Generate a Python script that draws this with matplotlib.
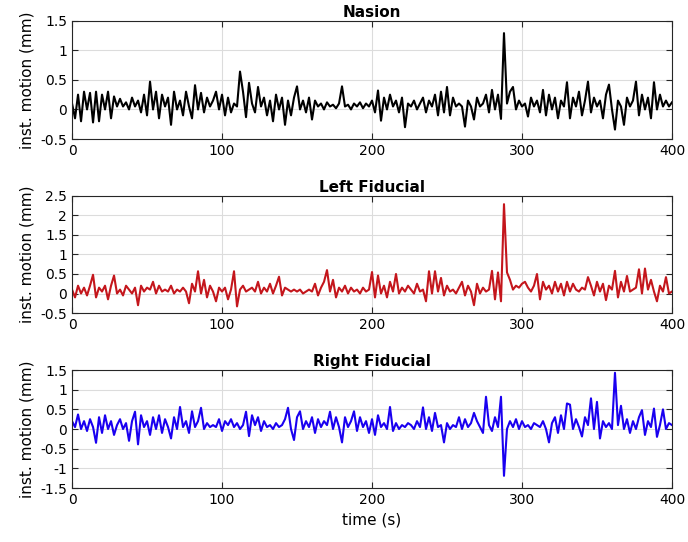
import numpy as np
import matplotlib
matplotlib.use('Agg')
import matplotlib.pyplot as plt
from matplotlib.ticker import FormatStrFormatter


# ── data (instantaneous motion, one value every 2 s) ─────────────
nasion = [
    0.1, -0.15, 0.25, -0.2, 0.3, 0.0, 0.28, -0.22, 0.3, -0.2, 0.25, 0.0, 0.3, -0.15, 0.22, 0.05, 0.18, 0.05, 0.12, 0.0, 0.2, 0.05, 0.15, -0.05, 0.25,
    -0.1, 0.47, 0.0, 0.3, -0.15, 0.25, 0.05, 0.2, -0.26, 0.3, 0.0, 0.15, -0.1, 0.3, 0.05, -0.15, 0.41, 0.0, 0.28, -0.05, 0.2, 0.05, 0.15, 0.3, 0.0,
    0.25, -0.1, 0.2, -0.05, 0.1, 0.05, 0.64, 0.3, -0.13, 0.45, 0.1, -0.05, 0.38, 0.05, 0.2, -0.1, 0.15, -0.2, 0.25, 0.0, 0.2, -0.26, 0.15, -0.1, 0.2,
    0.39, 0.0, 0.15, -0.05, 0.2, -0.17, 0.15, 0.05, 0.1, 0.0, 0.12, 0.05, 0.08, 0.02, 0.1, 0.39, 0.05, 0.08, 0.0, 0.1, 0.05, 0.12, 0.02, 0.1, 0.05,
    0.15, -0.05, 0.32, -0.19, 0.2, 0.0, 0.25, 0.05, 0.15, -0.05, 0.2, -0.3, 0.1, 0.05, 0.15, 0.0, 0.1, 0.2, -0.05, 0.15, 0.05, 0.25, -0.1, 0.3, -0.05,
    0.38, -0.1, 0.2, 0.05, 0.1, 0.05, -0.29, 0.15, 0.05, -0.17, 0.2, 0.05, 0.1, 0.25, -0.05, 0.33, 0.0, 0.25, -0.16, 1.29, 0.1, 0.3, 0.38, 0.0, 0.15,
    0.05, 0.1, -0.12, 0.2, 0.05, 0.15, -0.05, 0.33, -0.1, 0.25, 0.0, 0.2, -0.15, 0.15, 0.05, 0.46, -0.15, 0.2, 0.05, 0.3, -0.1, 0.15, 0.47, -0.05, 0.2,
    0.05, 0.15, -0.15, 0.25, 0.42, 0.0, -0.34, 0.15, 0.05, -0.26, 0.2, 0.05, 0.15, 0.47, -0.1, 0.25, 0.0, 0.2, -0.15, 0.46, 0.0, 0.25, 0.05, 0.15, 0.05,
    0.12,
]

left_fid = [
    0.1, -0.1, 0.2, 0.0, 0.15, -0.05, 0.2, 0.48, -0.1, 0.15, 0.05, 0.2, -0.15, 0.2, 0.46, 0.0, 0.1, -0.05, 0.2, 0.1, 0.0, 0.15, -0.3, 0.2, 0.05,
    0.15, 0.1, 0.3, 0.0, 0.2, 0.05, 0.1, 0.05, 0.2, 0.0, 0.1, 0.05, 0.15, 0.05, -0.25, 0.25, 0.05, 0.57, 0.0, 0.35, -0.1, 0.2, 0.05, -0.2, 0.15,
    0.05, 0.15, -0.15, 0.1, 0.57, -0.33, 0.1, 0.2, 0.05, 0.1, 0.15, 0.05, 0.3, 0.0, 0.15, 0.05, 0.25, 0.0, 0.2, 0.43, -0.05, 0.15, 0.1, 0.05, 0.1,
    0.05, 0.1, 0.0, 0.05, 0.1, 0.05, 0.25, -0.05, 0.15, 0.3, 0.6, 0.05, 0.35, -0.1, 0.15, 0.05, 0.2, 0.0, 0.15, 0.05, 0.1, 0.0, 0.15, 0.05, 0.1,
    0.55, -0.1, 0.46, 0.0, 0.2, -0.1, 0.3, 0.05, 0.5, 0.0, 0.15, 0.05, 0.2, 0.1, 0.0, 0.25, 0.05, 0.1, -0.2, 0.57, 0.0, 0.57, 0.05, 0.4, -0.05,
    0.2, 0.05, 0.1, 0.0, 0.15, 0.3, -0.05, 0.2, 0.05, -0.3, 0.25, 0.0, 0.15, 0.05, 0.1, 0.58, -0.15, 0.54, -0.2, 2.29, 0.54, 0.35, 0.1, 0.2, 0.15,
    0.25, 0.3, 0.15, 0.05, 0.2, 0.5, -0.15, 0.3, 0.1, 0.2, 0.0, 0.3, 0.05, 0.25, -0.05, 0.3, 0.05, 0.25, 0.1, 0.05, 0.15, 0.1, 0.42, 0.2, -0.05,
    0.3, 0.05, 0.25, -0.17, 0.2, 0.1, 0.58, -0.1, 0.3, 0.05, 0.45, 0.05, 0.1, 0.15, 0.62, 0.0, 0.64, 0.1, 0.35, 0.05, -0.2, 0.2, 0.05, 0.42, 0.0,
    0.05,
]

right_fid = [
    0.2, 0.05, 0.37, 0.0, 0.2, -0.05, 0.25, 0.05, -0.35, 0.3, -0.1, 0.35, 0.0, 0.2, -0.15, 0.1, 0.25, 0.0, 0.15, -0.3, 0.2, 0.44, -0.39, 0.35, 0.05,
    0.2, -0.15, 0.3, 0.0, 0.35, -0.1, 0.25, 0.05, -0.24, 0.3, 0.0, 0.56, 0.05, 0.2, -0.1, 0.45, 0.05, 0.2, 0.54, 0.0, 0.15, 0.05, 0.1, 0.05, 0.25,
    -0.05, 0.2, 0.1, 0.25, 0.05, 0.15, 0.0, 0.1, 0.44, -0.18, 0.35, 0.1, 0.3, -0.05, 0.2, 0.05, 0.1, 0.0, 0.15, 0.05, 0.1, 0.25, 0.54, 0.0, -0.28,
    0.3, 0.45, 0.0, 0.2, 0.05, 0.3, -0.1, 0.25, 0.05, 0.2, 0.1, 0.44, 0.0, 0.3, 0.05, -0.34, 0.3, 0.05, 0.2, 0.45, -0.05, 0.3, 0.05, 0.2, -0.1,
    0.25, -0.15, 0.35, 0.05, 0.15, 0.0, 0.56, -0.05, 0.15, 0.0, 0.1, 0.05, 0.15, 0.1, 0.0, 0.2, 0.05, 0.55, 0.0, 0.3, -0.05, 0.41, 0.05, 0.1, -0.34,
    0.15, 0.0, 0.1, 0.05, 0.3, 0.0, 0.25, 0.05, 0.15, 0.41, 0.2, 0.05, -0.1, 0.82, 0.1, -0.05, 0.3, 0.05, 0.82, -1.19, 0.0, 0.2, 0.05, 0.25, 0.0,
    0.2, 0.05, 0.1, 0.0, 0.15, 0.1, 0.05, 0.2, 0.0, -0.34, 0.15, 0.3, -0.1, 0.35, 0.0, 0.65, 0.62, 0.0, 0.25, 0.05, -0.19, 0.3, 0.1, 0.78, 0.0,
    0.69, -0.24, 0.2, 0.05, 0.15, 0.0, 1.43, 0.1, 0.59, 0.0, 0.25, -0.1, 0.2, 0.0, 0.3, 0.48, -0.15, 0.2, 0.05, 0.52, -0.2, 0.1, 0.5, 0.0, 0.15,
    0.1,
]

titles = ['Nasion', 'Left Fiducial', 'Right Fiducial']
colors = ['black', '#c4161c', '#1a00f0']
ylims = [(-0.5, 1.5), (-0.5, 2.5), (-1.5, 1.5)]
series = [nasion, left_fid, right_fid]

# axes boxes in figure coords [left, bottom, width, height]
boxes = [
    [0.1047, 0.7435, 0.872, 0.2183],
    [0.1047, 0.4225, 0.872, 0.2159],
    [0.1047, 0.0996, 0.872, 0.2177],
]

fig = plt.figure(figsize=(6.88, 5.42), dpi=100)

for i in range(3):
    ax = fig.add_axes(boxes[i])
    y = series[i]
    t = np.linspace(0, 400, len(y))
    ax.plot(t, y, color=colors[i], lw=1.5)

    ax.set_xlim(0, 400)
    ax.set_ylim(*ylims[i])
    ax.set_xticks([0, 100, 200, 300, 400])
    ax.set_yticks(np.arange(ylims[i][0], ylims[i][1] + 0.01, 0.5))
    ax.yaxis.set_major_formatter(FormatStrFormatter('%g'))

    ax.grid(True, color='#dcdcdc', lw=0.8)
    ax.set_axisbelow(True)
    ax.tick_params(direction='in', top=True, right=True, labelsize=10,
                   color='#262626', length=4)
    for s in ax.spines.values():
        s.set_color('#262626')
        s.set_linewidth(0.8)

    ax.set_title(titles[i], fontsize=11, fontweight='bold', pad=3)
    ax.set_ylabel('inst. motion (mm)', fontsize=11)

ax.set_xlabel('time (s)', fontsize=11)

fig.savefig('out.png', dpi=100)
